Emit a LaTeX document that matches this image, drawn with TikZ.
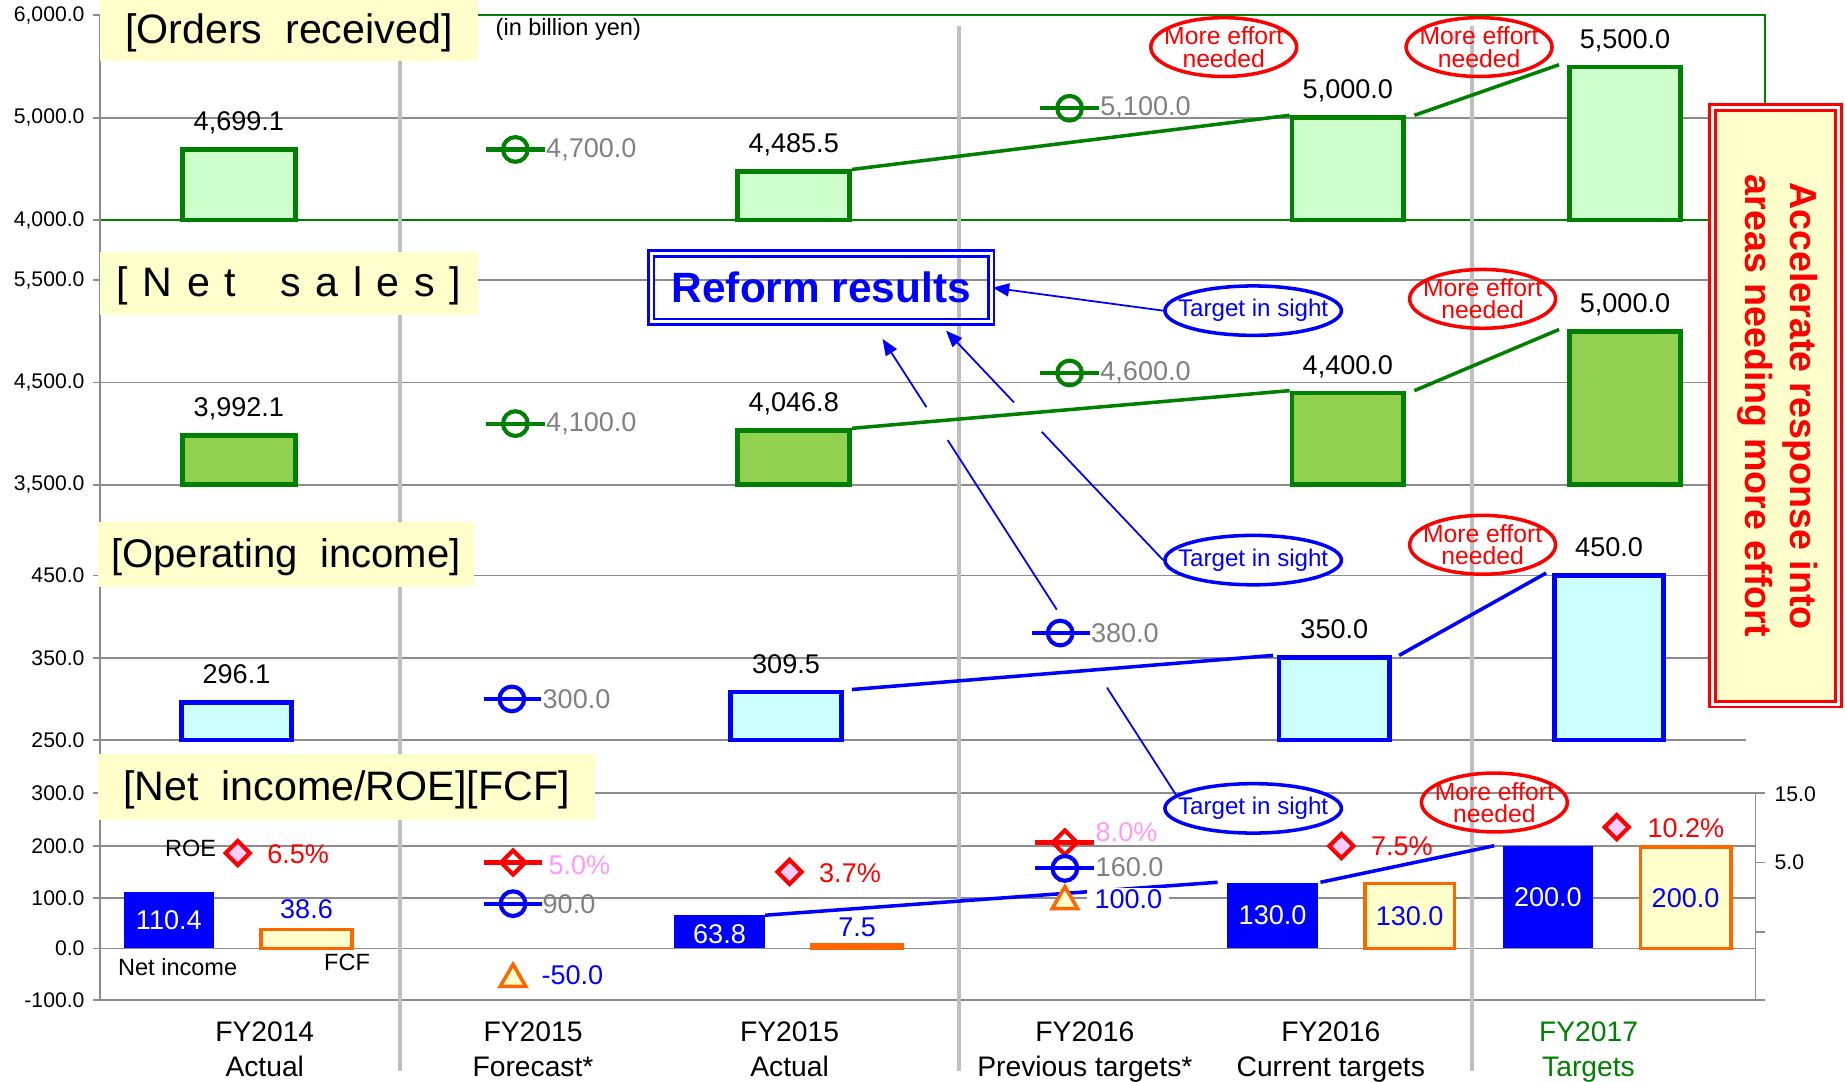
\documentclass[tikz,border=0pt]{standalone}
\usepackage{fontspec}
\setmainfont{Liberation Sans}
\usetikzlibrary{shapes.geometric,arrows.meta,calc,fit}

\definecolor{dkgreen}{HTML}{008000}
\definecolor{ordfill}{HTML}{CCFFCC}
\definecolor{salesfill}{HTML}{92D050}
\definecolor{opfill}{HTML}{CCFFFF}
\definecolor{pureblue}{HTML}{0000FF}
\definecolor{fcforange}{HTML}{FF6600}
\definecolor{paleyellow}{HTML}{FFFFCC}
\definecolor{purered}{HTML}{FF0000}
\definecolor{roefill}{HTML}{FFCCFF}
\definecolor{roepink}{HTML}{FF99FF}
\definecolor{valgray}{HTML}{808080}
\definecolor{gridgray}{HTML}{8C8C8C}
\definecolor{divgray}{HTML}{BFBFBF}

\newcommand{\pxfont}[2]{\fontsize{#1}{#2}\selectfont}
\newcommand{\lsp}{\hspace{12.5pt}}

\begin{document}
\begin{tikzpicture}[x=1pt,y=-1pt,
  grid/.style={draw=gridgray,line width=1.5pt},
  divider/.style={draw=divgray,line width=4pt},
  frame/.style={draw=dkgreen,line width=1.5pt},
  axislbl/.style={font=\pxfont{18}{18},inner sep=0pt,anchor=east},
  titlebox/.style={fill=paleyellow,inner sep=0pt,font=\pxfont{35}{35}},
  ordbar/.style={draw=dkgreen,fill=ordfill,line width=4pt,inner sep=0pt},
  salesbar/.style={draw=dkgreen,fill=salesfill,line width=4pt,inner sep=0pt},
  opbar/.style={draw=pureblue,fill=opfill,line width=4pt,inner sep=0pt},
  nibar/.style={fill=pureblue,inner sep=0pt},
  nitext/.style={text=white,font=\pxfont{23}{23},inner sep=0pt},
  fcfbar/.style={draw=fcforange,fill=paleyellow,line width=3pt,inner sep=0pt},
  fcftext/.style={text=pureblue,font=\pxfont{23}{23},inner sep=0pt},
  val/.style={font=\pxfont{23}{23},inner sep=0pt,anchor=base},
  side/.style={font=\pxfont{23}{23},inner sep=0pt,anchor=west},
  trend/.style={line width=3pt},
  ring/.style={circle,draw,line width=3.5pt,minimum size=21pt,inner sep=0pt},
  stem/.style={line width=3.5pt},
  roe/.style={diamond,draw=purered,fill=roefill,line width=3.5pt,minimum width=22pt,minimum height=22pt,inner sep=0pt},
  roeplan/.style={diamond,draw=purered,line width=3.5pt,minimum width=22pt,minimum height=22pt,inner sep=0pt},
  fcfplan/.style={regular polygon,regular polygon sides=3,draw=fcforange,fill=paleyellow,line width=3pt,minimum size=25pt,inner sep=0pt},
  effort/.style={ellipse,draw=purered,line width=3pt,minimum width=124pt,minimum height=50pt,inner sep=0pt,
     label={[font=\pxfont{21}{19},text=purered,align=center]center:More effort\\needed}},
  target/.style={ellipse,draw=pureblue,fill=white,line width=3pt,minimum width=150pt,minimum height=42pt,inner sep=0pt,
     label={[font=\pxfont{20.5}{20},text=pureblue]center:Target in sight}},
  pointer/.style={draw=pureblue,line width=1.5pt},
  tipped/.style={pointer,-{Triangle[length=14pt,width=11pt]}},
  cat/.style={font=\pxfont{24}{30},align=center,inner sep=0pt},
  note/.style={font=\pxfont{20}{20},inner sep=0pt}
]
\useasboundingbox (0,0) rectangle (1568,919);

% ---------- grid, axes and separators ----------
\foreach \yy in {100,238,325,412,489,559,629}
  \draw[grid] (85,\yy) -- (1484,\yy);
\foreach \yy in {674,719,763,806,850}
  \draw[grid] (85,\yy) -- (1492,\yy);
\draw[frame] (85,13) -- (1500,13) -- (1500,90);
\draw[frame] (85,187) -- (1484,187);
\draw[grid] (85,13) -- (85,850);
\foreach \yy in {13,100,187,238,325,412,489,559,629,674,719,763,806,850}
  \draw[grid] (79,\yy) -- (85,\yy);
\draw[grid] (1492,674) -- (1492,850);
\foreach \yy in {674,733,792,850}
  \draw[grid] (1492,\yy) -- (1500,\yy);

\foreach \xx in {340,815,1251}
  \draw[divider] (\xx,22) -- (\xx,910);

% axis labels
\node[axislbl] (a1) at (72,13) {6,000.0};
\node[axislbl] (a2) at (72,100) {5,000.0};
\node[axislbl] (a3) at (72,187) {4,000.0};
\node[axislbl] (a4) at (72,238) {5,500.0};
\node[axislbl] (a5) at (72,325) {4,500.0};
\node[axislbl] (a6) at (72,412) {3,500.0};
\node[axislbl] (a7) at (72,489) {450.0};
\node[axislbl] (a8) at (72,559) {350.0};
\node[axislbl] (a9) at (72,629) {250.0};
\node[axislbl] (a10) at (72,674) {300.0};
\node[axislbl] (a11) at (72,719) {200.0};
\node[axislbl] (a12) at (72,763) {100.0};
\node[axislbl] (a13) at (72,806) {0.0};
\node[axislbl] (a14) at (72,850) {-100.0};
\node[axislbl,anchor=west] (r1) at (1508,675) {15.0};
\node[axislbl,anchor=west] (r2) at (1508,733) {5.0};

% ---------- panel headings ----------
\node[titlebox,minimum width=321pt,minimum height=52pt] (h1) at (245.5,26) {};
\node[titlebox,minimum width=321pt,minimum height=54pt] (h2) at (245.5,241) {};
\node[titlebox,minimum width=320pt,minimum height=55pt] (h3) at (243,471.5) {};
\node[titlebox,minimum width=423pt,minimum height=56pt] (h4) at (294.5,669) {};
\node[titlebox,fill=none] (h1t) at ([yshift=-2pt]h1.center) {[Orders\ \ received]};
\node[titlebox,fill=none] (h2t) at ([yshift=-2pt]h2.center) {[\lsp N\lsp e\lsp t\lsp\lsp\lsp s\lsp a\lsp l\lsp e\lsp s\lsp ]};
\node[titlebox,fill=none,font=\pxfont{34}{34}] (h3t) at ([yshift=-2pt]h3.center) {[Operating\ \ income]};
\node[titlebox,fill=none] (h4t) at ([yshift=-2pt]h4.center) {[Net\ \ income/ROE][FCF]};
\node[note] (unit) at (483,25) {(in billion yen)};

% ---------- orders received ----------
\node[ordbar,fit={(155,127) (251,187)}] (o14) {};
\node[ordbar,fit={(627,146) (722,187)}] (o15) {};
\node[ordbar,fit={(1098,100) (1193,187)}] (o16) {};
\node[ordbar,fit={(1334,57) (1428,187)}] (o17) {};
\node[val] (o14v) at ([yshift=14pt]o14.north) {4,699.1};
\node[val] (o15v) at ([yshift=14pt]o15.north) {4,485.5};
\node[val] (o16v) at ([yshift=14pt]o16.north) {5,000.0};
\node[val] (o17v) at ([yshift=14pt]o17.north) {5,500.0};
\draw[trend,dkgreen] (o15.north east) -- (o16.north west);
\draw[trend,dkgreen] ([xshift=7pt]o16.north east) -- ([xshift=-7pt]o17.north west);

\node[ring,draw=dkgreen] (of15) at (438,127) {};
\draw[stem,dkgreen] ([xshift=-25pt]of15.center) -- ([xshift=25pt]of15.center);
\node[side,text=valgray] (of15v) at ([xshift=26pt]of15.center) {4,700.0};
\node[ring,draw=dkgreen] (of16) at (909,92) {};
\draw[stem,dkgreen] ([xshift=-25pt]of16.center) -- ([xshift=25pt]of16.center);
\node[side,text=valgray] (of16v) at ([xshift=26pt]of16.center) {5,100.0};

% ---------- net sales ----------
\node[salesbar,fit={(155,370) (251,412)}] (s14) {};
\node[salesbar,fit={(627,366) (722,412)}] (s15) {};
\node[salesbar,fit={(1098,334) (1193,412)}] (s16) {};
\node[salesbar,fit={(1334,282) (1428,412)}] (s17) {};
\node[val] (s14v) at ([yshift=14pt]s14.north) {3,992.1};
\node[val] (s15v) at ([yshift=14pt]s15.north) {4,046.8};
\node[val] (s16v) at ([yshift=14pt]s16.north) {4,400.0};
\node[val] (s17v) at ([yshift=14pt]s17.north) {5,000.0};
\draw[trend,dkgreen] (s15.north east) -- (s16.north west);
\draw[trend,dkgreen] ([xshift=7pt]s16.north east) -- ([xshift=-7pt]s17.north west);

\node[ring,draw=dkgreen] (sf15) at (438,360) {};
\draw[stem,dkgreen] ([xshift=-25pt]sf15.center) -- ([xshift=25pt]sf15.center);
\node[side,text=valgray] (sf15v) at ([xshift=26pt]sf15.center) {4,100.0};
\node[ring,draw=dkgreen] (sf16) at (909,317) {};
\draw[stem,dkgreen] ([xshift=-25pt]sf16.center) -- ([xshift=25pt]sf16.center);
\node[side,text=valgray] (sf16v) at ([xshift=26pt]sf16.center) {4,600.0};

% ---------- operating income ----------
\node[opbar,fit={(154,597) (248,629)}] (p14) {};
\node[opbar,fit={(621,588) (715,629)}] (p15) {};
\node[opbar,fit={(1087,559) (1181,629)}] (p16) {};
\node[opbar,fit={(1321,489) (1414,629)}] (p17) {};
\node[val] (p14v) at ([yshift=14pt]p14.north) {296.1};
\node[val] (p15v) at ([yshift=14pt]p15.north) {309.5};
\node[val] (p16v) at ([yshift=14pt]p16.north) {350.0};
\node[val] (p17v) at ([yshift=14pt]p17.north) {450.0};
\draw[trend,pureblue] ([xshift=7pt]p15.north east) -- ([xshift=-3pt]p16.north west);
\draw[trend,pureblue] ([xshift=6pt]p16.north east) -- ([xshift=-5pt]p17.north west);

\node[ring,draw=pureblue] (pf15) at (435,594) {};
\draw[stem,pureblue] ([xshift=-24pt]pf15.center) -- ([xshift=25pt]pf15.center);
\node[side,text=valgray] (pf15v) at ([xshift=26pt]pf15.center) {300.0};
\node[ring,draw=pureblue] (pf16) at (901,538) {};
\draw[stem,pureblue] ([xshift=-24pt]pf16.center) -- ([xshift=25pt]pf16.center);
\node[side,text=valgray] (pf16v) at ([xshift=26pt]pf16.center) {380.0};

% ---------- net income / ROE / FCF ----------
\node[nibar,fit={(105,758) (182,806)}] (n14) {};
\node[nibar,fit={(573,778) (650,806)}] (n15) {};
\node[nibar,fit={(1043,750) (1120,806)}] (n16) {};
\node[nibar,fit={(1277,719) (1354,806)}] (n17) {};
\node[nitext] (n14v) at (n14.center) {110.4};
\node[nitext] (n15v) at ([yshift=-2pt]n15.center) {63.8};
\node[nitext] (n16v) at (n16.center) {130.0};
\node[nitext] (n17v) at (n17.center) {200.0};

\node[fcfbar,fit={(222,790) (299,806)}] (f14) {};
\node[fcfbar,fit={(690,803) (767,806)}] (f15) {};
\node[fcfbar,fit={(1160,751) (1236,806)}] (f16) {};
\node[fcfbar,fit={(1394,720) (1471,806)}] (f17) {};
\node[fcftext] (f16v) at (f16.center) {130.0};
\node[fcftext] (f17v) at (f17.center) {200.0};
\node[val,text=pureblue] (f14v) at ([yshift=8pt]f14.north) {38.6};
\node[val,text=pureblue] (f15v) at ([yshift=6pt]f15.north) {7.5};

\draw[trend,pureblue] (n15.north east) -- ([xshift=-8pt]n16.north west);
\draw[trend,pureblue] ([xshift=2pt]n16.north east) -- ([xshift=-7pt]n17.north west);

\node[note] (roelbl) at (162,721) {ROE};
\node[note] (nilbl) at (151,822) {Net income};
\node[note] (fcflbl) at (295,818) {FCF};

\node[roe] (r14) at (202,725) {};
\node[side,text=purered] (r14v) at (227,726) {6.5\%};
\node[roe] (r15) at (671,741) {};
\node[side,text=purered] (r15v) at (696,742) {3.7\%};
\node[roe] (r16) at (1140,719) {};
\node[side,text=purered] (r16v) at (1165,719) {7.5\%};
\node[roe] (r17) at (1374,703) {};
\node[side,text=purered] (r17v) at (1400,704) {10.2\%};

% FY2015 forecast markers
\node[roeplan] (rf15) at (436,733) {};
\draw[stem,purered] ([xshift=-25pt]rf15.center) -- ([xshift=25pt]rf15.center);
\node[side,text=roepink] (rf15v) at (466,735) {5.0\%};
\node[ring,draw=pureblue] (nf15) at (436,768) {};
\draw[stem,pureblue] ([xshift=-25pt]nf15.center) -- ([xshift=25pt]nf15.center);
\node[side,text=valgray] (nf15v) at (461,768) {90.0};
\node[fcfplan] (ff15) at (436,832) {};
\node[side,text=pureblue] (ff15v) at (460,829) {-50.0};

% FY2016 previous target markers
\node[roeplan] (rf16) at (905,716) {};
\draw[stem,purered] ([xshift=-25pt]rf16.center) -- ([xshift=25pt]rf16.center);
\node[side,text=roepink] (rf16v) at (931,707) {8.0\%};
\node[ring,draw=pureblue] (nf16) at (905,738) {};
\draw[stem,pureblue] ([xshift=-25pt]nf16.center) -- ([xshift=25pt]nf16.center);
\node[side,text=valgray] (nf16v) at (931,737) {160.0};
\node[fcfplan] (ff16) at (905,766) {};
\node[side,text=pureblue,fill=white,inner xsep=6pt,inner ysep=1pt] (ff16v) at (924,764) {100.0};

% ---------- category labels ----------
\node[cat] (c1) at (225,894) {FY2014\strut\\Actual\strut};
\node[cat] (c2) at (453,894) {FY2015\strut\\Forecast*\strut};
\node[cat] (c3) at (671,894) {FY2015\strut\\Actual\strut};
\node[cat] (c4) at (922,894) {FY2016\strut\\Previous targets*\strut};
\node[cat] (c5) at (1131,894) {FY2016\strut\\Current targets\strut};
\node[cat,text=dkgreen] (c6) at (1350,894) {FY2017\strut\\Targets\strut};

% ---------- call-outs ----------
\node[effort] (e1) at (1040,40) {};
\node[effort] (e2) at (1257,40) {};
\node[effort] (e3) at (1260,254) {};
\node[effort] (e4) at (1260,463) {};
\node[effort] (e5) at (1270,682) {};

\node[draw=pureblue,line width=2.2pt,double=white,double distance=2.6pt,
      minimum width=289pt,minimum height=58pt,inner sep=0pt,
      font=\bfseries\pxfont{36}{36},text=pureblue] (reform) at (698,244.5) {Reform results};

\node[target] (t1) at (1065,264) {};
\node[target] (t2) at (1065,476) {};
\node[target] (t3) at (1065,687) {};

\coordinate (tipB) at (804,281);
\coordinate (tipC) at (750,288);
\draw[tipped] (t1.west) -- (reform.east);
\draw[pointer] (t2.west) -- ($(t2.west)!0.559!(tipB)$);
\draw[tipped] ($(t2.west)!0.687!(tipB)$) -- (tipB);
\draw[pointer] (t3.170) -- ($(t3.170)!0.235!(tipC)$);
\draw[pointer] ($(t3.170)!0.406!(tipC)$) -- ($(t3.170)!0.778!(tipC)$);
\draw[tipped] ($(t3.170)!0.850!(tipC)$) -- (tipC);

% ---------- side banner ----------
\node[draw=purered,fill=paleyellow,line width=2.4pt,double=white,double distance=2.4pt,
      minimum width=107pt,minimum height=507pt,inner sep=0pt] (accel) at (1509,345) {};
\node[rotate=-90,font=\bfseries\pxfont{32}{38},text=purered,align=center,inner sep=0pt]
      (acceltext) at (1511,345) {Accelerate response into\\areas needing more effort};

\end{tikzpicture}
\end{document}
